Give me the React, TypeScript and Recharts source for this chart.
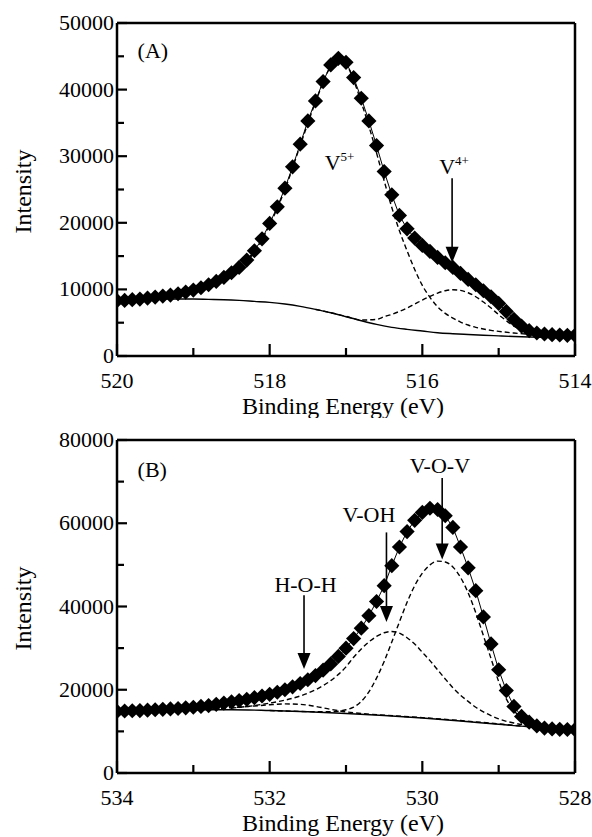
import React from 'react';
import { ComposedChart, Line, XAxis, YAxis, ReferenceLine, ReferenceDot } from 'recharts';

const FONT = '"Liberation Serif", "Times New Roman", Times, serif';

// ---------------- Panel A : V 2p ----------------
const aEnergy = [
  520.0, 519.9, 519.8, 519.7, 519.6, 519.5, 519.4, 519.3, 519.2, 519.1,
  519.0, 518.9, 518.8, 518.7, 518.6, 518.5, 518.4, 518.3, 518.2, 518.1,
  518.0, 517.9, 517.8, 517.7, 517.6, 517.5, 517.4, 517.3, 517.2, 517.1,
  517.0, 516.9, 516.8, 516.7, 516.6, 516.5, 516.4, 516.3, 516.2, 516.1,
  516.0, 515.9, 515.8, 515.7, 515.6, 515.5, 515.4, 515.3, 515.2, 515.1,
  515.0, 514.9, 514.8, 514.7, 514.6, 514.5, 514.4, 514.3, 514.2, 514.1,
  514.0,
];
const aCounts = [
  8300, 8350, 8450, 8550, 8700, 8850, 9000, 9150, 9350, 9600,
  9900, 10250, 10700, 11200, 11800, 12500, 13300, 14400, 15800, 17600,
  19900, 22400, 25200, 28400, 31800, 35300, 38300, 41200, 43700, 44700,
  44100, 41800, 38700, 35300, 31600, 27700, 24200, 21100, 19100, 17700,
  16600, 15700, 14800, 14000, 13300, 12400, 11500, 10700, 9800, 8900,
  7900, 6700, 5500, 4500, 3800, 3450, 3300, 3200, 3150, 3100,
  3100,
];
const aBgEnergy = [
  520.0, 519.8, 519.6, 519.4, 519.2, 519.0, 518.8, 518.6, 518.4, 518.2,
  518.0, 517.8, 517.6, 517.4, 517.2, 517.0, 516.8, 516.6, 516.4, 516.2,
  516.0, 515.8, 515.6, 515.4, 515.2, 515.0, 514.8, 514.6, 514.4, 514.2, 514.0,
];
const aBgCounts = [
  8400, 8450, 8500, 8550, 8550, 8550, 8500, 8450, 8350, 8200,
  8050, 7800, 7450, 7000, 6500, 5900, 5300, 4750, 4300, 4000,
  3750, 3500, 3350, 3230, 3120, 3020, 2920, 2850, 2800, 2780, 2760,
];
const aV5Energy = [
  520.0, 519.6, 519.2, 518.8, 518.6, 518.4, 518.2, 518.0, 517.8, 517.6,
  517.4, 517.2, 517.1, 517.0, 516.9, 516.8, 516.7, 516.6, 516.5, 516.4,
  516.3, 516.2, 516.1, 516.0, 515.9, 515.8, 515.7, 515.6, 515.5, 515.4,
  515.3, 515.2, 515.1, 515.0, 514.8, 514.6, 514.4, 514.2, 514.0,
];
const aV5Counts = [
  8400, 8650, 9250, 10500, 11600, 13100, 15600, 19700, 25000, 31600,
  38100, 43400, 44300, 43800, 41400, 38100, 34500, 30500, 26300, 22300,
  18800, 15800, 13000, 10600, 8800, 7400, 6400, 5700, 5100, 4650,
  4300, 4050, 3850, 3700, 3450, 3250, 3100, 3000, 2950,
];
const aV4Energy = [
  517.4, 517.2, 517.0, 516.8, 516.6, 516.5, 516.4, 516.3, 516.2, 516.1,
  516.0, 515.9, 515.8, 515.7, 515.6, 515.5, 515.4, 515.3, 515.2, 515.1,
  515.0, 514.9, 514.8, 514.7, 514.6, 514.4, 514.2, 514.0,
];
const aV4Counts = [
  7000, 6500, 5950, 5400, 5500, 5900, 6250, 6700, 7200, 7800,
  8400, 8950, 9450, 9800, 9950, 9850, 9500, 8900, 8100, 7200,
  6200, 5300, 4500, 3900, 3450, 3000, 2850, 2800,
];

// ---------------- Panel B : O 1s ----------------
const bEnergy = [
  534.0, 533.9, 533.8, 533.7, 533.6, 533.5, 533.4, 533.3, 533.2, 533.1,
  533.0, 532.9, 532.8, 532.7, 532.6, 532.5, 532.4, 532.3, 532.2, 532.1,
  532.0, 531.9, 531.8, 531.7, 531.6, 531.5, 531.4, 531.3, 531.2, 531.1,
  531.0, 530.9, 530.8, 530.7, 530.6, 530.5, 530.4, 530.3, 530.2, 530.1,
  530.0, 529.9, 529.8, 529.7, 529.6, 529.5, 529.4, 529.3, 529.2, 529.1,
  529.0, 528.9, 528.8, 528.7, 528.6, 528.5, 528.4, 528.3, 528.2, 528.1,
  528.0,
];
const bCounts = [
  14800, 14900, 14950, 15000, 15100, 15200, 15300, 15400, 15500, 15650,
  15800, 16000, 16200, 16500, 16800, 17100, 17400, 17700, 18100, 18500,
  18900, 19400, 20000, 20700, 21500, 22400, 23400, 24700, 26200, 28000,
  30000, 32300, 34800, 37800, 41200, 45000, 49800, 54300, 58000, 60700,
  62600, 63600, 63300, 61800, 59000, 54300, 49300, 43800, 37500, 31000,
  24800, 19800, 16000, 13600, 12200, 11300, 10800, 10600, 10500, 10450,
  10400,
];
const bBgEnergy = [534.0, 533.5, 533.0, 532.5, 532.0, 531.5, 531.0, 530.5, 530.0, 529.5, 529.0, 528.5, 528.0];
const bBgCounts = [14900, 15100, 15200, 15200, 15000, 14700, 14300, 13800, 13200, 12500, 11700, 11000, 10700];
const bHohEnergy = [534.0, 533.0, 532.5, 532.2, 532.0, 531.8, 531.6, 531.4, 531.2, 531.0, 530.8, 530.5, 530.0, 529.5, 529.0, 528.5, 528.0];
const bHohCounts = [14900, 15300, 15700, 16100, 16400, 16600, 16500, 16000, 15300, 14700, 14300, 13900, 13300, 12600, 11800, 11000, 10700];
const bVohEnergy = [
  532.5, 532.2, 532.0, 531.8, 531.6, 531.4, 531.2, 531.0, 530.9, 530.8,
  530.7, 530.6, 530.5, 530.4, 530.3, 530.2, 530.1, 530.0, 529.9, 529.8,
  529.7, 529.6, 529.5, 529.4, 529.3, 529.2, 529.1, 529.0, 528.8, 528.6,
  528.4, 528.2, 528.0,
];
const bVohCounts = [
  15600, 16200, 16800, 17500, 18500, 20000, 22200, 25500, 27800, 29800,
  31500, 32800, 33700, 34000, 33600, 32500, 31000, 29000, 27000, 24800,
  22600, 20500, 18700, 17200, 15800, 14700, 13800, 13000, 12000, 11400,
  11000, 10800, 10700,
];
const bVovEnergy = [
  532.0, 531.5, 531.2, 531.0, 530.9, 530.8, 530.7, 530.6, 530.5, 530.4,
  530.3, 530.2, 530.1, 530.0, 529.9, 529.8, 529.7, 529.6, 529.5, 529.4,
  529.3, 529.2, 529.1, 529.0, 528.9, 528.8, 528.7, 528.6, 528.5, 528.4,
  528.2, 528.0,
];
const bVovCounts = [
  15000, 14750, 14700, 15200, 15800, 17200, 19500, 22800, 26800, 31500,
  36300, 41000, 45000, 48000, 50000, 50900, 50700, 49500, 47000, 43300,
  38500, 33000, 27500, 22000, 17800, 15000, 13300, 12300, 11600, 11200,
  10900, 10700,
];

// tick values
const aXTicks = [520, 519, 518, 517, 516, 515, 514];
const aXMajor = [520, 518, 516, 514];
const aYTicks = [0, 5000, 10000, 15000, 20000, 25000, 30000, 35000, 40000, 45000, 50000];
const aYMajor = [0, 10000, 20000, 30000, 40000, 50000];
const bXTicks = [534, 533, 532, 531, 530, 529, 528];
const bXMajor = [534, 532, 530, 528];
const bYTicks = [0, 10000, 20000, 30000, 40000, 50000, 60000, 70000, 80000];
const bYMajor = [0, 20000, 40000, 60000, 80000];

const zip = (xs: number[], ys: number[]) => xs.map((x, i) => ({ x, y: ys[i] }));

const Diamond = (props: any) => {
  const { cx, cy, index } = props;
  if (cx == null || cy == null || isNaN(cx) || isNaN(cy)) return <g key={`d-${index}`} />;
  const r = 7.6;
  return (
    <path
      key={`d-${index}`}
      d={`M${cx},${cy - r}L${cx + r},${cy}L${cx},${cy + r}L${cx - r},${cy}Z`}
      fill="#000"
      stroke="none"
    />
  );
};

const textStyle = { fontFamily: FONT };

const makeXTick = (majors: number[]) => (props: any) => {
  const { x, y, payload } = props;
  const v = payload.value;
  const major = majors.includes(v);
  return (
    <g>
      <line x1={x} x2={x} y1={y} y2={y - (major ? 12 : 8)} stroke="#000" strokeWidth={2.2} />
      {major && (
        <text x={x} y={y + 32} textAnchor="middle" style={textStyle} fontSize={22} fill="#000">
          {v}
        </text>
      )}
    </g>
  );
};

const makeYTick = (majors: number[]) => (props: any) => {
  const { x, y, payload } = props;
  const v = payload.value;
  const major = majors.includes(v);
  return (
    <g>
      <line x1={x} x2={x + (major ? 10 : 7)} y1={y} y2={y} stroke="#000" strokeWidth={2.2} />
      {major && (
        <text x={x - 3} y={y + 7} textAnchor="end" style={textStyle} fontSize={22} fill="#000">
          {v}
        </text>
      )}
    </g>
  );
};

const xTitle = (p: any) => {
  const vb = p && p.viewBox ? p.viewBox : { x: 117, y: 356, width: 458, height: 60 };
  return (
    <text x={vb.x + vb.width / 2 - 3} y={vb.y + 58} textAnchor="middle" style={textStyle} fontSize={24} fill="#000">
      Binding Energy (eV)
    </text>
  );
};

const yTitle = (p: any) => {
  const vb = p && p.viewBox ? p.viewBox : { x: 0, y: 23, width: 117, height: 333 };
  const cx = 23;
  const cy = vb.y + vb.height / 2 + 2;
  return (
    <text
      x={cx}
      y={cy}
      transform={`rotate(-90, ${cx}, ${cy})`}
      textAnchor="middle"
      dominantBaseline="central"
      style={textStyle}
      fontSize={24}
      fill="#000"
    >
      Intensity
    </text>
  );
};

const Arrow = (props: any) => {
  const { x1, y1, x2, y2 } = props;
  const head = 16;
  const half = 6.5;
  return (
    <g>
      <line x1={x1} y1={y1} x2={x2} y2={y2 - head + 2} stroke="#000" strokeWidth={1.6} />
      <path d={`M${x2 - half},${y2 - head}L${x2 + half},${y2 - head}L${x2},${y2}Z`} fill="#000" />
    </g>
  );
};

const textShape = (label: string, anchor: string, sup?: string) => (props: any) => {
  const { cx, cy } = props;
  return (
    <text x={cx} y={cy} textAnchor={anchor} style={textStyle} fontSize={22} fill="#000">
      {label}
      {sup && (
        <tspan fontSize={13} dy={-9}>
          {sup}
        </tspan>
      )}
    </text>
  );
};

type Annot = { x: number; y: number; text: string; anchor: string; sup?: string };
type ArrowDef = { x: number; from: number; to: number };

const aAnnots: Annot[] = [
  { x: 519.73, y: 44700, text: '(A)', anchor: 'start' },
  { x: 517.28, y: 27900, text: 'V', anchor: 'start', sup: '5+' },
  { x: 515.78, y: 27400, text: 'V', anchor: 'start', sup: '4+' },
];
const aArrows: ArrowDef[] = [{ x: 515.61, from: 26700, to: 14000 }];

const bAnnots: Annot[] = [
  { x: 533.73, y: 71100, text: '(B)', anchor: 'start' },
  { x: 531.53, y: 43500, text: 'H-O-H', anchor: 'middle' },
  { x: 530.7, y: 60300, text: 'V-OH', anchor: 'middle' },
  { x: 529.77, y: 72100, text: 'V-O-V', anchor: 'middle' },
];
const bArrows: ArrowDef[] = [
  { x: 531.55, from: 42700, to: 25000 },
  { x: 530.47, from: 57800, to: 36300 },
  { x: 529.74, from: 70900, to: 51300 },
];

function Panel(props: {
  height: number;
  marginTop: number;
  marginBottom: number;
  xDomain: [number, number];
  xTicks: number[];
  xMajor: number[];
  yMax: number;
  yTicks: number[];
  yMajor: number[];
  points: { x: number; y: number }[];
  bg: { x: number; y: number }[];
  comps: { x: number; y: number }[][];
  annots: Annot[];
  arrows: ArrowDef[];
}) {
  const { height, marginTop, marginBottom, xDomain, xTicks, xMajor, yMax, yTicks, yMajor, points, bg, comps, annots, arrows } = props;
  return (
    <ComposedChart width={592} height={height} margin={{ top: marginTop, right: 17, bottom: marginBottom, left: 0 }}>
      <XAxis
        type="number"
        dataKey="x"
        domain={xDomain}
        reversed
        allowDataOverflow
        ticks={xTicks}
        interval={0}
        tickSize={0}
        tickMargin={0}
        tickLine={false}
        tick={makeXTick(xMajor)}
        axisLine={{ stroke: '#000', strokeWidth: 2.5 }}
        height={60}
        label={xTitle}
      />
      <YAxis
        type="number"
        dataKey="y"
        domain={[0, yMax]}
        allowDataOverflow
        ticks={yTicks}
        interval={0}
        tickSize={0}
        tickMargin={0}
        tickLine={false}
        tick={makeYTick(yMajor)}
        axisLine={{ stroke: '#000', strokeWidth: 2.5 }}
        width={117}
        label={yTitle}
      />
      <ReferenceLine y={yMax} stroke="#000" strokeWidth={2.5} />
      <ReferenceLine x={xDomain[0]} stroke="#000" strokeWidth={2.5} />
      <Line data={bg} dataKey="y" type="monotone" stroke="#000" strokeWidth={1.4} dot={false} isAnimationActive={false} />
      {comps.map((c, i) => (
        <Line
          key={`c${i}`}
          data={c}
          dataKey="y"
          type="monotone"
          stroke="#000"
          strokeWidth={1.4}
          strokeDasharray="5 3"
          dot={false}
          isAnimationActive={false}
        />
      ))}
      <Line data={points} dataKey="y" type="linear" stroke="#000" strokeWidth={1} dot={Diamond} isAnimationActive={false} />
      {arrows.map((a, i) => (
        <ReferenceLine
          key={`a${i}`}
          segment={[{ x: a.x, y: a.from }, { x: a.x, y: a.to }]}
          stroke="#000"
          shape={Arrow}
        />
      ))}
      {annots.map((t, i) => (
        <ReferenceDot key={`t${i}`} x={t.x} y={t.y} r={1} shape={textShape(t.text, t.anchor, t.sup)} />
      ))}
    </ComposedChart>
  );
}

export default function App() {
  return (
    <div style={{ position: 'absolute', left: 0, top: 0, width: 592, height: 837, background: '#fff' }}>
      <Panel
        height={418}
        marginTop={23}
        marginBottom={2}
        xDomain={[514, 520]}
        xTicks={aXTicks}
        xMajor={aXMajor}
        yMax={50000}
        yTicks={aYTicks}
        yMajor={aYMajor}
        points={zip(aEnergy, aCounts)}
        bg={zip(aBgEnergy, aBgCounts)}
        comps={[zip(aV5Energy, aV5Counts), zip(aV4Energy, aV4Counts)]}
        annots={aAnnots}
        arrows={aArrows}
      />
      <Panel
        height={419}
        marginTop={22}
        marginBottom={4}
        xDomain={[528, 534]}
        xTicks={bXTicks}
        xMajor={bXMajor}
        yMax={80000}
        yTicks={bYTicks}
        yMajor={bYMajor}
        points={zip(bEnergy, bCounts)}
        bg={zip(bBgEnergy, bBgCounts)}
        comps={[zip(bHohEnergy, bHohCounts), zip(bVohEnergy, bVohCounts), zip(bVovEnergy, bVovCounts)]}
        annots={bAnnots}
        arrows={bArrows}
      />
    </div>
  );
}
